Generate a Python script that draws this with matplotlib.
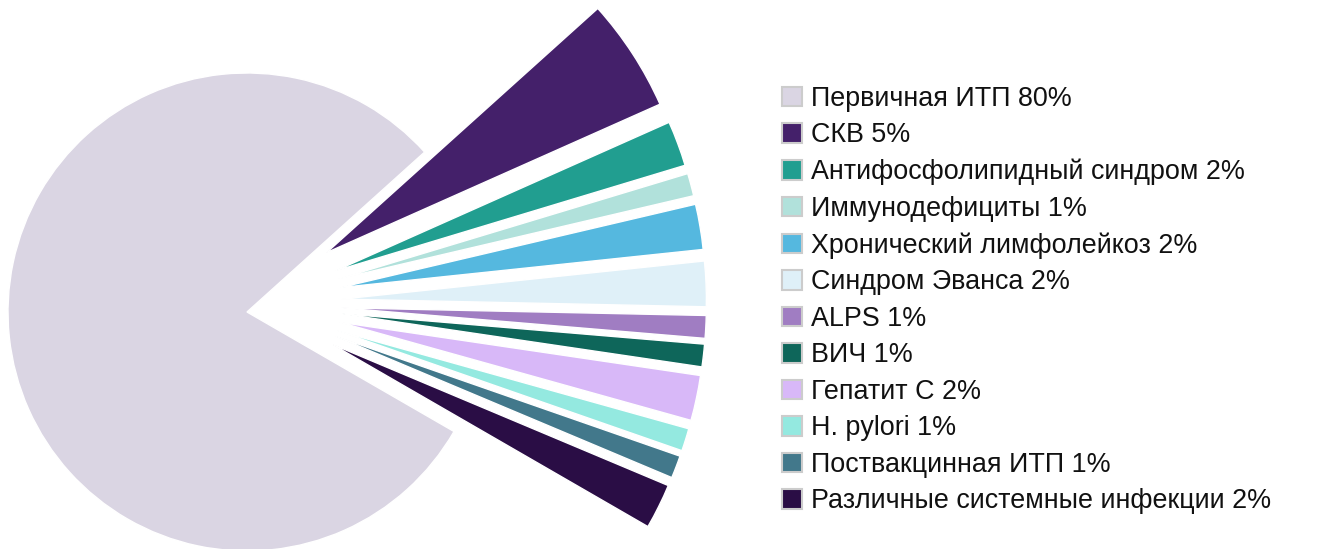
import matplotlib
matplotlib.use("Agg")
import matplotlib.pyplot as plt

plt.rcParams['font.family'] = ['Liberation Sans', 'DejaVu Sans']

# data
names = ["Первичная ИТП", "СКВ", "Антифосфолипидный синдром", "Иммунодефициты",
         "Хронический лимфолейкоз", "Синдром Эванса", "ALPS", "ВИЧ", "Гепатит С",
         "H. pylori", "Поствакцинная ИТП", "Различные системные инфекции"]
shares = [80, 5, 2, 1, 2, 2, 1, 1, 2, 1, 1, 2]
colors = ["#DAD5E3", "#44206A", "#219E90", "#B1E1DB", "#55B8DF", "#DFF0F8",
          "#A07DC2", "#0E665A", "#D8B8F8", "#94E9E0", "#42788B", "#2A0D45"]

labels = ["%s %d%%" % (n, v) for n, v in zip(names, shares)]

W, H = 1328, 549
fig = plt.figure(figsize=(W / 100, H / 100), dpi=100)
ax = fig.add_axes([0, 0, 1, 1])

# layout in pixels: pie centre and main radius
cx, cy, r = 249, 303, 239

explode = [0] + [0.387] * (len(shares) - 1)
wedges, _ = ax.pie(shares, colors=colors, explode=explode, startangle=-30,
                   counterclock=False, radius=1,
                   wedgeprops=dict(edgecolor="white", linewidth=1))
# the small slices stick out further than the main one
for w in wedges[1:]:
    w.set_radius(1.527)
# main slice sits a little lower/left
wedges[0].set_center((-2 / r, -9 / r))

ax.set_xlim(-cx / r, (W - cx) / r)
ax.set_ylim(-(H - cy) / r, cy / r)
ax.set_aspect("equal")
ax.axis("off")

leg = fig.legend(wedges, labels, loc="center left",
                 bbox_to_anchor=(782 / W, 1 - 300 / H),
                 frameon=False, fontsize=19.4, handlelength=0.74, handleheight=0.74,
                 handletextpad=0.33, labelspacing=0.39, borderpad=0, borderaxespad=0)
for h in leg.legend_handles:
    h.set_edgecolor("#CCCCCC")
    h.set_linewidth(1.5)
for t in leg.get_texts():
    t.set_color("#111111")

fig.savefig("out.png", dpi=100)
